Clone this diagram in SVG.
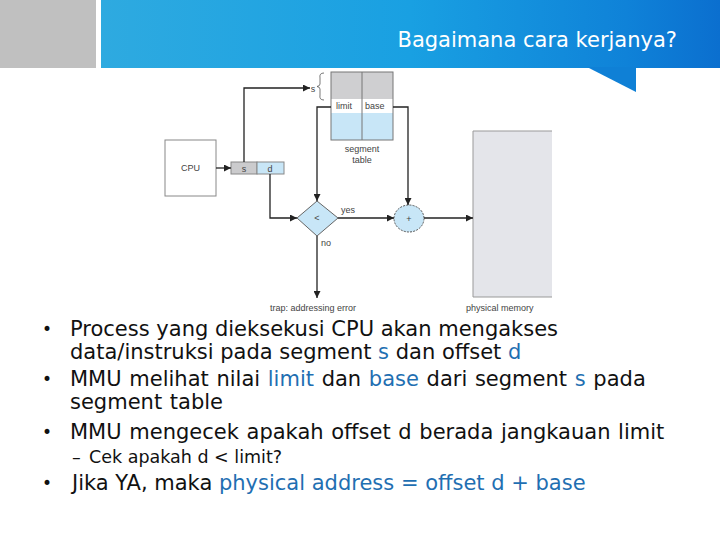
<svg xmlns="http://www.w3.org/2000/svg" width="720" height="540" viewBox="0 0 720 540">
<defs>
<linearGradient id="bg" x1="0" y1="0" x2="1" y2="0">
<stop offset="0" stop-color="#2eaae0"/>
<stop offset="0.5" stop-color="#19a0e2"/>
<stop offset="0.85" stop-color="#0f82d8"/>
<stop offset="1" stop-color="#0b6fcf"/>
</linearGradient>
<marker id="ah" viewBox="0 0 10 10" refX="10" refY="5" markerWidth="8" markerHeight="7" markerUnits="userSpaceOnUse" orient="auto">
<path d="M0,0 L10,5 L0,10 z" fill="#222"/>
</marker>
<style>
.ln{fill:none;stroke:#222;stroke-width:1.3}
.dg{font-family:"Liberation Sans",Arial,sans-serif;font-size:9px;fill:#444}
.bt{font-family:"DejaVu Sans","Open Sans",sans-serif;font-size:21px;fill:#111}
.sb{font-family:"DejaVu Sans","Open Sans",sans-serif;font-size:17.5px;fill:#111}
.bl{font-family:"DejaVu Sans","Open Sans",sans-serif;font-size:17px;fill:#111}
.hl{fill:#1f6fb2}
.bx{stroke:#888;stroke-width:1}
</style>
</defs>
<rect x="0" y="0" width="720" height="540" fill="#ffffff"/>
<g id="header">
<rect x="0" y="0" width="96" height="68" fill="#c0c0c0"/>
<rect x="101" y="0" width="619" height="68" fill="url(#bg)"/>
<polygon points="587,67 636,67 636,92" fill="#0f80d6"/>
<text x="677" y="47" text-anchor="end" font-family="'DejaVu Sans','Open Sans',sans-serif" font-size="21" fill="#ffffff">Bagaimana cara kerjanya?</text>
</g>
<g id="segment-table">
<rect x="331" y="72" width="62" height="27" fill="#cfcfd1"/>
<rect x="331" y="99" width="62" height="14" fill="#ffffff"/>
<rect x="331" y="113" width="62" height="27" fill="#c8e6f7"/>
<rect x="331" y="72" width="62" height="68" fill="none" stroke="#777" stroke-width="1"/>
<line x1="362" y1="72" x2="362" y2="140" stroke="#777" stroke-width="1"/>
<text class="dg" x="336" y="109">limit</text>
<text class="dg" x="365" y="109">base</text>
<text class="dg" x="362" y="152" text-anchor="middle">segment</text>
<text class="dg" x="362" y="163" text-anchor="middle">table</text>
<text class="dg" x="313" y="92" text-anchor="middle">s</text>
<path d="M324,73 Q319,73 320,78 L320,84 Q320,86 317,86.5 Q320,87 320,89 L320,95 Q319,100 324,100" fill="none" stroke="#555" stroke-width="0.8"/>
</g>
<g id="cpu">
<rect x="165" y="140" width="51" height="56" fill="#ffffff" class="bx"/>
<text class="dg" x="190.5" y="171" text-anchor="middle">CPU</text>
</g>
<g id="address">
<rect x="231" y="162" width="26" height="12" fill="#cbcbcd" class="bx"/>
<rect x="257" y="162" width="27" height="12" fill="#c8e6f7" class="bx"/>
<text class="dg" x="244" y="171.5" text-anchor="middle">s</text>
<text class="dg" x="270" y="171.5" text-anchor="middle">d</text>
</g>
<g id="compare">
<polygon points="317,201 338,218 317,236 297,218" fill="#c8e6f7" stroke="#666" stroke-width="1"/>
<text class="dg" x="317" y="221" text-anchor="middle">&lt;</text>
</g>
<g id="adder">
<ellipse cx="409" cy="218.5" rx="15" ry="13.5" fill="#c8e6f7" stroke="#555" stroke-width="1" stroke-dasharray="2 1.2"/>
<text class="dg" x="409" y="222" text-anchor="middle">+</text>
</g>
<g id="physical-memory">
<rect x="473" y="131" width="79" height="166" fill="#e4e5ea"/>
<path d="M552,131 L473,131 L473,297 L552,297" fill="none" stroke="#999" stroke-width="1"/>
<text class="dg" x="466" y="311">physical memory</text>
</g>
<g id="trap">
<text class="dg" x="313" y="311" text-anchor="middle">trap: addressing error</text>
</g>
<g id="connectors">
<path class="ln" d="M216,168 L231,168" marker-end="url(#ah)"/>
<path class="ln" d="M244,162 L244,88 L310,88" marker-end="url(#ah)"/>
<path class="ln" d="M331,107 L317,107 L317,201" marker-end="url(#ah)"/>
<path class="ln" d="M393,107 L408,107 L408,205" marker-end="url(#ah)"/>
<path class="ln" d="M270,174 L270,218 L297,218" marker-end="url(#ah)"/>
<path class="ln" d="M338,218 L394,218" marker-end="url(#ah)"/>
<path class="ln" d="M424,218 L473,218" marker-end="url(#ah)"/>
<path class="ln" d="M317,236 L317,298" marker-end="url(#ah)"/>
<text class="dg" x="341" y="213">yes</text>
<text class="dg" x="321" y="246">no</text>
</g>
<g id="bullets">
<text class="bl" x="42" y="335">•</text>
<text class="bt"><tspan x="70" y="336">Process yang dieksekusi CPU akan mengakses</tspan><tspan x="70" y="359">data/instruksi pada segment <tspan class="hl">s</tspan> dan offset <tspan class="hl">d</tspan></tspan></text>
<text class="bl" x="42" y="385">•</text>
<text class="bt" word-spacing="1"><tspan x="70" y="386">MMU melihat nilai <tspan class="hl">limit</tspan> dan <tspan class="hl">base</tspan> dari segment <tspan class="hl">s</tspan> pada</tspan><tspan x="70" y="409">segment table</tspan></text>
<text class="bl" x="42" y="438">•</text>
<text class="bt" x="70" y="439" word-spacing="1">MMU mengecek apakah offset d berada jangkauan limit</text>
<text class="sb" x="72" y="463">–</text>
<text class="sb" x="89" y="463">Cek apakah d &lt; limit?</text>
<text class="bl" x="42" y="489">•</text>
<text class="bt" x="72" y="490">Jika YA, maka <tspan class="hl">physical address = offset d + base</tspan></text>
</g>
</svg>
